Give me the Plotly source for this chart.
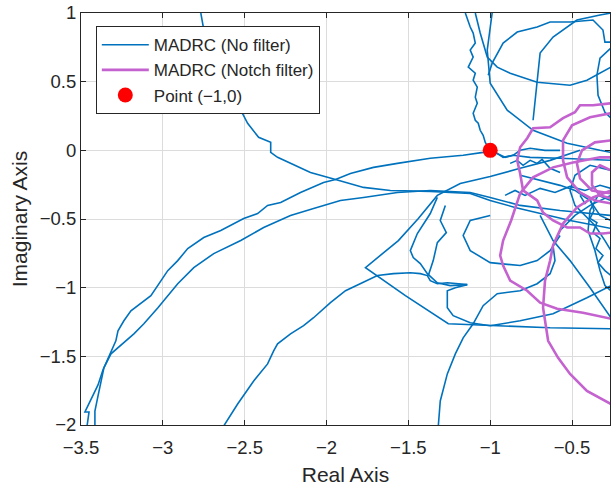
import plotly.graph_objects as go

# ---- Nyquist traces, MADRC without filter (real / imaginary parts) ----
nf1_re = [-2.768, -2.744, -2.695, -2.634, -2.573, -2.524, -2.482, -2.415, -2.341, -2.341, -2.299, -2.22, -2.098,
          -1.945, -1.774, -1.61, -1.366, -1.122, -1.0, -0.848, -0.695, -0.512, -0.262]
nf1_im = [1.0, 0.839, 0.657, 0.496, 0.387, 0.292, 0.197, 0.095, 0.058, -0.015, -0.051, -0.095, -0.161,
          -0.212, -0.27, -0.292, -0.299, -0.314, -0.365, -0.416, -0.46, -0.511, -0.569]

nf2_re = [-3.463, -3.451, -3.476, -3.396, -3.366, -3.287, -3.274, -3.238, -3.195, -3.073, -2.97, -2.909, -2.848,
          -2.75, -2.646, -2.506, -2.421, -2.36, -2.28, -2.159, -2.018, -1.945, -1.854, -1.713, -1.567, -1.366,
          -1.165, -1.043, -1.0, -0.957, -0.909, -0.86, -0.756, -0.573, -0.262]
nf2_im = [-2.007, -1.905, -1.905, -1.708, -1.599, -1.387, -1.314, -1.241, -1.168, -1.058, -0.876, -0.803, -0.715,
          -0.635, -0.584, -0.496, -0.46, -0.401, -0.38, -0.307, -0.234, -0.212, -0.168, -0.124, -0.095, -0.058,
          -0.036, -0.015, 0.0, -0.022, -0.051, -0.036, -0.051, -0.058, -0.073]

nf3_re = [-3.415, -3.415, -3.396, -3.378, -3.36, -3.317, -3.177, -3.116, -3.03, -2.909, -2.811, -2.689, -2.524,
          -2.384, -2.22, -2.079, -1.915, -1.774, -1.567, -1.366, -1.122, -1.0, -0.817, -0.573, -0.262]
nf3_im = [-2.007, -1.898, -1.788, -1.679, -1.584, -1.482, -1.336, -1.263, -1.146, -0.971, -0.854, -0.752, -0.657,
          -0.562, -0.474, -0.423, -0.365, -0.343, -0.307, -0.292, -0.307, -0.343, -0.401, -0.438, -0.474]

nf4_re = [-2.628, -2.543, -2.445, -2.36, -2.323, -2.299, -2.22, -2.14, -2.079, -1.976, -1.884, -1.75, -1.689,
          -1.591, -1.488, -1.427, -1.384, -1.366, -1.323, -1.262, -1.201, -1.14, -1.213, -1.262, -1.262, -1.226,
          -1.122, -1.0, -0.817, -0.616, -0.409, -0.262]
nf4_im = [-2.007, -1.847, -1.679, -1.555, -1.46, -1.409, -1.336, -1.277, -1.219, -1.109, -1.022, -0.949, -0.912,
          -0.898, -0.891, -0.898, -0.912, -0.949, -0.971, -0.964, -0.971, -0.978, -1.0, -1.022, -1.146, -1.204,
          -1.255, -1.277, -1.241, -1.19, -1.073, -0.985]

nf5_re = [-0.451, -0.634, -0.817, -1.0, -1.183, -1.323, -1.439, -1.561, -1.762, -1.518, -1.256, -1.0, -0.634, -0.262]
nf5_im = [0.0, -0.073, -0.131, -0.19, -0.241, -0.328, -0.496, -0.657, -0.854, -1.058, -1.263, -1.277, -1.292, -1.299]

nf6_re = [-1.317, -1.305, -1.262, -1.213, -1.165, -1.104, -1.043, -0.957, -0.817, -0.713, -0.634, -0.604, -0.616,
          -0.573, -0.482, -0.39, -0.262]
nf6_im = [-2.007, -1.825, -1.628, -1.482, -1.365, -1.263, -1.131, -1.044, -1.022, -0.971, -0.898, -0.803, -0.693,
          -0.584, -0.474, -0.401, -0.328]

nf7_re = [-0.695, -0.616, -0.512, -0.39, -0.262]
nf7_im = [-0.474, -0.657, -0.803, -1.0, -1.219]

nf8_re = [-1.0, -1.122, -1.165, -1.122, -1.0, -0.817, -0.713, -0.634, -0.573]
nf8_im = [-0.474, -0.511, -0.62, -0.73, -0.818, -0.839, -0.803, -0.73, -0.62]

nf9_re = [-1.323, -1.366, -1.445, -1.488, -1.47, -1.427, -1.384, -1.323, -1.244, -1.14]
nf9_im = [-0.343, -0.46, -0.606, -0.73, -0.781, -0.825, -0.898, -0.964, -0.985, -0.978]

nf10_re = [-1.274, -1.305, -1.268, -1.323, -1.348, -1.366, -1.378]
nf10_im = [-0.401, -0.511, -0.599, -0.672, -0.803, -0.861, -0.912]

nf11_re = [-1.152, -1.122, -1.104, -1.091, -1.122, -1.104, -1.134, -1.091, -1.104, -1.079, -1.091, -1.079, -1.104,
           -1.091, -1.073, -1.061, -1.043, -1.03, -1.012, -0.957, -0.921, -0.86, -0.817, -0.756, -0.665, -0.573]
nf11_im = [1.0, 0.898, 0.854, 0.781, 0.73, 0.679, 0.606, 0.562, 0.511, 0.46, 0.387, 0.343, 0.27,
           0.219, 0.197, 0.146, 0.109, 0.058, 0.022, -0.022, -0.051, -0.036, 0.0, 0.015, 0.0, 0.0]

nf12_re = [-0.988, -1.018, -1.0, -0.896, -0.738, -0.53, -0.329, -0.262]
nf12_im = [1.0, 0.73, 0.489, 0.292, 0.146, 0.051, 0.0, -0.015]

nf13_re = [-1.091, -1.061, -1.018, -0.957, -0.878, -0.713, -0.512, -0.409, -0.262]
nf13_im = [1.0, 0.854, 0.679, 0.606, 0.562, 0.496, 0.474, 0.511, 0.606]

nf14_re = [-0.738, -0.726, -0.713, -0.695, -0.616, -0.47, -0.329, -0.262]
nf14_im = [0.219, 0.365, 0.489, 0.708, 0.825, 0.949, 0.985, 1.0]

nf15_re = [-1.012, -0.988, -0.921, -0.835, -0.713, -0.634, -0.512, -0.372, -0.311, -0.299, -0.262]
nf15_im = [0.547, 0.635, 0.781, 0.861, 0.898, 0.934, 0.934, 0.949, 0.876, 0.788, 0.788]

nf16_re = [-0.262, -0.329, -0.348, -0.341, -0.299, -0.262]
nf16_im = [0.745, 0.672, 0.547, 0.401, 0.277, 0.234]

nf17_re = [-0.262, -0.39, -0.482, -0.512, -0.482, -0.421, -0.36, -0.299, -0.262]
nf17_im = [-0.146, -0.109, -0.182, -0.292, -0.401, -0.474, -0.547, -0.657, -0.73]

nf18_re = [-0.262, -0.341, -0.39, -0.402, -0.36, -0.329, -0.299, -0.262]
nf18_im = [-0.365, -0.328, -0.438, -0.584, -0.73, -0.876, -0.985, -1.022]

nf19_re = [-0.817, -0.695, -0.573, -0.482, -0.39, -0.329, -0.262]
nf19_im = [-0.182, -0.219, -0.255, -0.292, -0.365, -0.474, -0.511]

nf20_re = [-0.909, -0.848, -0.787, -0.695, -0.604, -0.512, -0.421, -0.329, -0.262]
nf20_im = [-0.328, -0.292, -0.328, -0.277, -0.307, -0.263, -0.292, -0.255, -0.277]

nf21_re = [-0.451, -0.421, -0.39, -0.366, -0.39, -0.348, -0.372, -0.329, -0.354, -0.311, -0.341, -0.299, -0.262]
nf21_im = [-0.328, -0.387, -0.35, -0.438, -0.496, -0.526, -0.599, -0.642, -0.715, -0.766, -0.818, -0.876, -0.912]

nf22_re = [-0.878, -0.835, -0.799, -0.756, -0.713, -0.683, -0.634, -0.573]
nf22_im = [-0.095, -0.073, -0.109, -0.073, -0.095, -0.066, -0.131, -0.161]

# ---- Nyquist traces, MADRC with notch filter ----
nt1_re = [-0.262, -0.372, -0.451, -0.482, -0.555, -0.634, -0.738, -0.774, -0.817, -0.835, -0.817, -0.799,
          -0.713, -0.677, -0.616, -0.53, -0.451, -0.39, -0.311, -0.262]
nt1_im = [0.343, 0.328, 0.328, 0.277, 0.234, 0.168, 0.161, 0.088, 0.022, -0.073, -0.168, -0.292,
          -0.365, -0.453, -0.511, -0.562, -0.562, -0.606, -0.606, -0.599]

nt2_re = [-0.262, -0.329, -0.494, -0.616, -0.738, -0.817, -0.872, -0.921, -0.939, -0.921, -0.878, -0.774,
          -0.695, -0.591, -0.433, -0.262]
nt2_im = [-0.051, -0.051, -0.088, -0.124, -0.197, -0.314, -0.511, -0.657, -0.766, -0.839, -0.949, -1.022,
          -1.109, -1.153, -1.182, -1.226]

nt3_re = [-0.262, -0.372, -0.47, -0.555, -0.616, -0.634, -0.665, -0.677, -0.646, -0.585, -0.512, -0.409, -0.262]
nt3_im = [-0.292, -0.343, -0.416, -0.533, -0.693, -0.803, -0.949, -1.146, -1.387, -1.511, -1.628, -1.752, -1.847]

nt4_re = [-0.262, -0.39, -0.5, -0.555, -0.555, -0.53, -0.451, -0.36, -0.262]
nt4_im = [0.27, 0.241, 0.182, 0.073, -0.073, -0.197, -0.307, -0.365, -0.387]

nt5_re = [-0.262, -0.36, -0.439, -0.47, -0.451, -0.378, -0.262]
nt5_im = [0.073, 0.058, 0.0, -0.095, -0.204, -0.292, -0.314]

nt6_re = [-0.262, -0.329, -0.378, -0.378, -0.329, -0.262]
nt6_im = [-0.146, -0.109, -0.161, -0.255, -0.328, -0.35]

critical_re = [-1.0]
critical_im = [0.0]

no_filter = [
    (nf1_re, nf1_im), (nf2_re, nf2_im), (nf3_re, nf3_im), (nf4_re, nf4_im), (nf5_re, nf5_im),
    (nf6_re, nf6_im), (nf7_re, nf7_im), (nf8_re, nf8_im), (nf9_re, nf9_im), (nf10_re, nf10_im),
    (nf11_re, nf11_im), (nf12_re, nf12_im), (nf13_re, nf13_im), (nf14_re, nf14_im), (nf15_re, nf15_im),
    (nf16_re, nf16_im), (nf17_re, nf17_im), (nf18_re, nf18_im), (nf19_re, nf19_im), (nf20_re, nf20_im),
    (nf21_re, nf21_im), (nf22_re, nf22_im),
]
notch = [(nt1_re, nt1_im), (nt2_re, nt2_im), (nt3_re, nt3_im), (nt4_re, nt4_im), (nt5_re, nt5_im),
         (nt6_re, nt6_im)]

BLUE = "#0072BD"
MAGENTA = "#C462CF"
FONT = "Liberation Sans, Arial, sans-serif"

fig = go.Figure()
for i, (re, im) in enumerate(no_filter):
    fig.add_trace(go.Scatter(x=re, y=im, mode="lines", line=dict(color=BLUE, width=1.6),
                             name="MADRC (No filter)", showlegend=(i == 0)))
for i, (re, im) in enumerate(notch):
    fig.add_trace(go.Scatter(x=re, y=im, mode="lines", line=dict(color=MAGENTA, width=2.6),
                             name="MADRC (Notch filter)", showlegend=(i == 0)))
fig.add_trace(go.Scatter(x=critical_re, y=critical_im, mode="markers",
                         marker=dict(color="#FF0000", size=15), name="Point (\u22121,0)"))

axis_common = dict(
    showgrid=True, gridcolor="#DCDCDC", gridwidth=1, zeroline=False,
    showline=True, linecolor="#262626", linewidth=1, mirror="ticks",
    ticks="inside", ticklen=5, tickcolor="#262626",
    tickfont=dict(family=FONT, size=18.5, color="#262626"),
)

fig.update_layout(
    width=611, height=489,
    margin=dict(l=81, r=1, t=13, b=64),
    paper_bgcolor="white", plot_bgcolor="white",
    font=dict(family=FONT, color="#262626"),
    xaxis=dict(range=[-3.5, -0.268], tickvals=[-3.5, -3, -2.5, -2, -1.5, -1, -0.5],
               ticklabelstandoff=6,
               title=dict(text="Real Axis", font=dict(family=FONT, size=21), standoff=10),
               **axis_common),
    yaxis=dict(range=[-2, 1], tickvals=[-2, -1.5, -1, -0.5, 0, 0.5, 1],
               title=dict(text="Imaginary Axis", font=dict(family=FONT, size=21), standoff=6),
               **axis_common),
    legend=dict(x=0.028, y=0.968, xanchor="left", yanchor="top",
                bgcolor="white", bordercolor="#262626", borderwidth=1,
                font=dict(family=FONT, size=17, color="#262626"),
                itemwidth=47, tracegroupgap=0),
    showlegend=True,
)

fig.write_html("out.html")
